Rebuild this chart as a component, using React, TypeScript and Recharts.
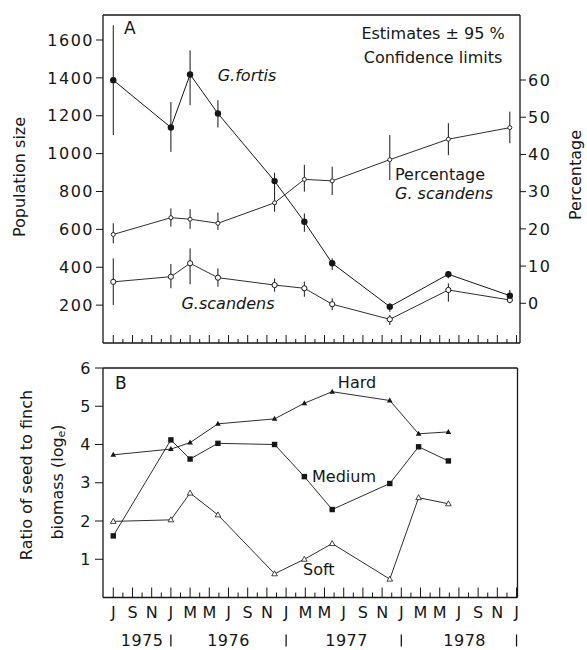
import React from 'react';
import { ComposedChart, Line, XAxis, YAxis, ErrorBar, ReferenceLine } from 'recharts';

const FONT = '"DejaVu Sans", "Liberation Sans", sans-serif';
const INK = '#161616';

// ---------- Panel A data (x = months since July 1975) ----------
const MONTHS_A = [0, 6, 8, 10.9, 16.8, 19.9, 22.8, 28.8, 34.9, 41.3];
const FORTIS = [1388, 1138, 1418, 1212, 855, 640, 421, 192, 363, 250];
const FORTIS_LO = [1098, 1009, 1256, 1138, 798, 587, 385, 165, 342, 236];
const FORTIS_HI = [1678, 1273, 1545, 1282, 899, 684, 447, 209, 377, 280];
const SCANDENS = [323, 350, 421, 345, 306, 289, 205, 125, 280, 227];
const SCANDENS_LO = [200, 289, 310, 297, 271, 244, 174, 95, 218, 210];
const SCANDENS_HI = [447, 417, 500, 394, 341, 324, 236, 148, 315, 253];
const PCT = [18.5, 23.0, 22.6, 21.5, 27.0, 33.3, 32.9, 38.6, 44.1, 47.2];
const PCT_LO = [16.1, 20.6, 20.0, 19.7, 24.6, 30.0, 29.1, 33.1, 39.8, 43.0];
const PCT_HI = [21.5, 25.5, 25.3, 24.4, 30.0, 37.2, 36.7, 45.2, 48.4, 51.5];

const POP_TICKS = [200, 400, 600, 800, 1000, 1200, 1400, 1600];
const PCT_TICKS = [0, 10, 20, 30, 40, 50, 60];

// ---------- Panel B data ----------
const MONTHS_B = [0, 6, 8, 10.9, 16.8, 19.9, 22.8, 28.8, 31.8, 34.9];
const HARD = [3.73, 3.88, 4.05, 4.54, 4.67, 5.08, 5.38, 5.15, 4.28, 4.33];
const MEDIUM = [1.61, 4.12, 3.62, 4.03, 4.0, 3.16, 2.3, 2.98, 3.94, 3.57];
const SOFT = [1.99, 2.03, 2.73, 2.16, 0.62, 1.0, 1.41, 0.48, 2.61, 2.45];
const RATIO_TICKS = [1, 2, 3, 4, 5, 6];

// ---------- Time axis ----------
const MONTH_LETTERS = ['J', 'S', 'N', 'J', 'M', 'M', 'J', 'S', 'N', 'J', 'M', 'M', 'J', 'S', 'N', 'J', 'M', 'M', 'J', 'S', 'N', 'J'];
const YEAR_LABELS = ['1975', '1976', '1977', '1978'];
const YEAR_POS = [3, 12, 24.3, 36.6];
const YEAR_SEP = [6, 18, 30, 42];
const MONTH_TICKS = Array.from({ length: 43 }, (_, i) => i);

const X_DOMAIN_A: [number, number] = [-1.07, 42.36];
const X_DOMAIN_B: [number, number] = [-1.07, 42.1];
const POP_DOMAIN: [number, number] = [0, 1732];
const PCT_DOMAIN: [number, number] = [-10.67, 77.47];
const RATIO_DOMAIN: [number, number] = [0, 6];

const dataA = MONTHS_A.map((m, i) => ({
  m,
  fortis: FORTIS[i],
  fortisErr: [FORTIS[i] - FORTIS_LO[i], FORTIS_HI[i] - FORTIS[i]],
  scandens: SCANDENS[i],
  scandensErr: [SCANDENS[i] - SCANDENS_LO[i], SCANDENS_HI[i] - SCANDENS[i]],
  pct: PCT[i],
  pctErr: [PCT[i] - PCT_LO[i], PCT_HI[i] - PCT[i]],
}));

const dataB = MONTHS_B.map((m, i) => ({ m, hard: HARD[i], medium: MEDIUM[i], soft: SOFT[i] }));

const BOTTOM_TICKS = Array.from(new Set([...MONTH_TICKS, ...YEAR_POS, ...YEAR_SEP])).sort((a, b) => a - b);

// ---------- Tick renderers ----------
const TopTick = (props: any) => {
  const { x, y, payload } = props;
  const v = payload.value;
  const long = v % 2 === 0;
  return (
    <g>
      <line x1={x} x2={x} y1={y} y2={y - (long ? 8 : 4)} stroke={INK} strokeWidth={1} />
    </g>
  );
};

const BottomTick = (props: any) => {
  const { x, y, payload } = props;
  const v = payload.value;
  const out: any[] = [];
  if (Number.isInteger(v)) {
    const isLabel = v % 2 === 0;
    out.push(<line key="t" x1={x} x2={x} y1={y} y2={y - (isLabel ? 10 : 5)} stroke={INK} strokeWidth={1} />);
    if (isLabel) {
      out.push(
        <text key="m" x={x} y={y + 15} textAnchor="middle" dominantBaseline="central" fontSize={16} fill={INK} fontFamily={FONT}>
          {MONTH_LETTERS[v / 2]}
        </text>
      );
    }
  }
  const yi = YEAR_POS.indexOf(v);
  if (yi >= 0) {
    out.push(
      <text key="y" x={x} y={y + 43} textAnchor="middle" dominantBaseline="central" fontSize={16} fill={INK} fontFamily={FONT} letterSpacing={0.5}>
        {YEAR_LABELS[yi]}
      </text>
    );
  }
  if (YEAR_SEP.includes(v)) {
    out.push(<line key="s" x1={x} x2={x} y1={y + 37} y2={y + 49} stroke={INK} strokeWidth={1.3} />);
  }
  return <g>{out}</g>;
};

// ---------- Markers ----------
const FilledCircle = (p: any) => <circle key={`fc${p.index}`} cx={p.cx} cy={p.cy} r={3.2} fill={INK} stroke="none" />;
const OpenCircle = (p: any) => <circle key={`oc${p.index}`} cx={p.cx} cy={p.cy} r={2.6} fill="#fff" stroke={INK} strokeWidth={1} />;
const SmallOpen = (p: any) => <circle key={`so${p.index}`} cx={p.cx} cy={p.cy} r={2} fill="#fff" stroke={INK} strokeWidth={0.9} />;
const FilledTri = (p: any) => (
  <path key={`ft${p.index}`} d={`M${p.cx},${p.cy - 3} L${p.cx + 2.8},${p.cy + 2} L${p.cx - 2.8},${p.cy + 2} Z`} fill={INK} />
);
const OpenTri = (p: any) => (
  <path key={`ot${p.index}`} d={`M${p.cx},${p.cy - 3} L${p.cx + 2.8},${p.cy + 2} L${p.cx - 2.8},${p.cy + 2} Z`} fill="#fff" stroke={INK} strokeWidth={0.8} />
);
const Square = (p: any) => <rect key={`sq${p.index}`} x={p.cx - 2.7} y={p.cy - 2.7} width={5.4} height={5.4} fill={INK} />;

const tickStyle = { fontSize: 16, fill: INK, fontFamily: FONT, letterSpacing: 1.5 };

export default function App() {
  return (
    <div style={{ position: 'absolute', left: 0, top: 0, width: 587, height: 650, background: '#fff', fontFamily: FONT }}>
      <div style={{ position: 'absolute', left: 0, top: 0 }}>
        <ComposedChart width={587} height={360} data={dataA} margin={{ top: 15, right: 17, bottom: 7, left: 43 }}>
          <XAxis
            dataKey="m"
            type="number"
            domain={X_DOMAIN_A}
            allowDataOverflow
            ticks={MONTH_TICKS}
            interval={0}
            height={10}
            tickSize={0}
            tickMargin={0}
            tickLine={false}
            tick={<TopTick />}
            axisLine={{ stroke: INK, strokeWidth: 1.3 }}
          />
          <YAxis
            yAxisId="left"
            domain={POP_DOMAIN}
            allowDataOverflow
            ticks={POP_TICKS}
            width={60}
            tickSize={7}
            tickMargin={2}
            tick={tickStyle}
            tickLine={{ stroke: INK }}
            axisLine={{ stroke: INK, strokeWidth: 1.3 }}
          />
          <YAxis
            yAxisId="right"
            orientation="right"
            domain={PCT_DOMAIN}
            allowDataOverflow
            ticks={PCT_TICKS}
            width={50}
            tickSize={6}
            tickMargin={2}
            tick={tickStyle}
            tickLine={{ stroke: INK }}
            axisLine={{ stroke: INK, strokeWidth: 1.3 }}
          />
          <ReferenceLine yAxisId="left" y={POP_DOMAIN[1]} stroke={INK} strokeWidth={1.3} />
          <Line yAxisId="right" dataKey="pct" stroke={INK} strokeWidth={0.9} dot={SmallOpen} isAnimationActive={false}>
            <ErrorBar dataKey="pctErr" width={0} stroke={INK} strokeWidth={1} direction="y" isAnimationActive={false} />
          </Line>
          <Line yAxisId="left" dataKey="scandens" stroke={INK} strokeWidth={0.9} dot={OpenCircle} isAnimationActive={false}>
            <ErrorBar dataKey="scandensErr" width={0} stroke={INK} strokeWidth={1} direction="y" isAnimationActive={false} />
          </Line>
          <Line yAxisId="left" dataKey="fortis" stroke={INK} strokeWidth={1} dot={FilledCircle} isAnimationActive={false}>
            <ErrorBar dataKey="fortisErr" width={0} stroke={INK} strokeWidth={1} direction="y" isAnimationActive={false} />
          </Line>
        </ComposedChart>
      </div>

      <div style={{ position: 'absolute', left: 0, top: 350 }}>
        <ComposedChart width={587} height={300} data={dataB} margin={{ top: 18, right: 69.5, bottom: 2.5, left: 43 }}>
          <XAxis
            dataKey="m"
            type="number"
            domain={X_DOMAIN_B}
            allowDataOverflow
            ticks={BOTTOM_TICKS}
            interval={0}
            height={50}
            tickSize={0}
            tickMargin={0}
            tickLine={false}
            tick={<BottomTick />}
            axisLine={{ stroke: INK, strokeWidth: 1.3 }}
          />
          <YAxis
            domain={RATIO_DOMAIN}
            allowDataOverflow
            ticks={RATIO_TICKS}
            width={60}
            tickSize={8}
            tickMargin={3}
            tick={tickStyle}
            tickLine={{ stroke: INK }}
            axisLine={{ stroke: INK, strokeWidth: 1.3 }}
          />
          <ReferenceLine y={RATIO_DOMAIN[1]} stroke={INK} strokeWidth={1.3} />
          <ReferenceLine x={X_DOMAIN_B[1]} stroke={INK} strokeWidth={1.3} />
          <Line dataKey="hard" stroke={INK} strokeWidth={0.9} dot={FilledTri} isAnimationActive={false} />
          <Line dataKey="medium" stroke={INK} strokeWidth={0.9} dot={Square} isAnimationActive={false} />
          <Line dataKey="soft" stroke={INK} strokeWidth={0.9} dot={OpenTri} isAnimationActive={false} />
        </ComposedChart>
      </div>

      <svg width={587} height={650} style={{ position: 'absolute', left: 0, top: 0, pointerEvents: 'none' }} fontFamily={FONT} fill={INK}>
        {/* Panel A */}
        <text x={124} y={28} fontSize={17} dominantBaseline="central">A</text>
        <text x={433} y={33} fontSize={16} textAnchor="middle" dominantBaseline="central">Estimates ± 95 %</text>
        <text x={433} y={57} fontSize={16} textAnchor="middle" dominantBaseline="central">Confidence limits</text>
        <text x={247} y={75} fontSize={16} fontStyle="italic" textAnchor="middle" dominantBaseline="central">G.fortis</text>
        <text x={228} y={303} fontSize={16} fontStyle="italic" textAnchor="middle" dominantBaseline="central">G.scandens</text>
        <text x={395} y={174} fontSize={16} dominantBaseline="central">Percentage</text>
        <text x={395} y={193} fontSize={16} fontStyle="italic" dominantBaseline="central">G. scandens</text>
        <text x={19} y={177} fontSize={16} textAnchor="middle" dominantBaseline="central" transform="rotate(-90 19 177)">Population size</text>
        <text x={575} y={175} fontSize={16} textAnchor="middle" dominantBaseline="central" transform="rotate(-90 575 175)">Percentage</text>

        {/* Panel B */}
        <text x={115} y={383} fontSize={17} dominantBaseline="central">B</text>
        <text x={357} y={382} fontSize={16} textAnchor="middle" dominantBaseline="central">Hard</text>
        <text x={312} y={476} fontSize={16} dominantBaseline="central">Medium</text>
        <text x={303} y={569} fontSize={16} dominantBaseline="central">Soft</text>
        <text x={26} y={475} fontSize={16} textAnchor="middle" dominantBaseline="central" transform="rotate(-90 26 475)">Ratio of seed to finch</text>
        <text x={57} y={482} fontSize={16} textAnchor="middle" dominantBaseline="central" transform="rotate(-90 57 482)">
          biomass (log<tspan fontSize={11} dy={4}>e</tspan><tspan dy={-4}>)</tspan>
        </text>
      </svg>
    </div>
  );
}
